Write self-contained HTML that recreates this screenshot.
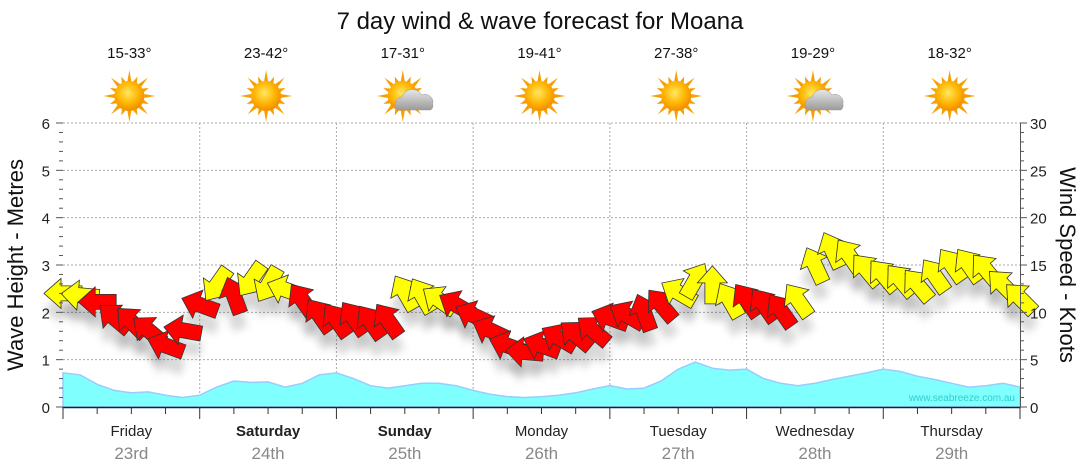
<!DOCTYPE html>
<html><head><meta charset="utf-8">
<style>
html,body{margin:0;padding:0;background:#fff;}
svg{display:block;font-family:"Liberation Sans",sans-serif;}
</style></head><body>
<svg id="chart" width="1080" height="475" viewBox="0 0 1080 475" xmlns="http://www.w3.org/2000/svg">
<defs>
<filter id="sh" x="-50%" y="-50%" width="200%" height="200%"><feGaussianBlur stdDeviation="4"/></filter>
<radialGradient id="sun" cx="45%" cy="40%" r="60%"><stop offset="0" stop-color="#ffe860"/><stop offset="0.6" stop-color="#ffb400"/><stop offset="1" stop-color="#f08c00"/></radialGradient>
<linearGradient id="cloud" x1="0" y1="0" x2="0" y2="1"><stop offset="0" stop-color="#e8e8e8"/><stop offset="1" stop-color="#9a9a9a"/></linearGradient>
</defs>
<text x="540" y="29" text-anchor="middle" font-size="24" fill="#111">7 day wind &amp; wave forecast for Moana</text>
<g id="grid"></g>
<g id="waves"></g>
<text x="1015" y="401" text-anchor="end" font-size="10" fill="#3cc">www.seabreeze.com.au</text>
<g id="shadows"></g>
<g id="arrows"></g>
<g id="axes"></g>
<g id="days"></g>
<text transform="translate(23,265) rotate(-90)" text-anchor="middle" font-size="22" fill="#111">Wave Height - Metres</text>
<text transform="translate(1060,265) rotate(90)" text-anchor="middle" font-size="22" fill="#111">Wind Speed - Knots</text>
</svg>
<script>
const days=["Friday","Saturday","Sunday","Monday","Tuesday","Wednesday","Thursday"];
const dates=["23rd","24th","25th","26th","27th","28th","29th"];
const boldDays=[false,true,true,false,false,false,false];
const temps=["15-33°","23-42°","17-31°","19-41°","27-38°","19-29°","18-32°"];
const cloudy=[false,false,true,false,false,true,false];
const leftTicks=[0,1,2,3,4,5,6];
const rightTicks=[0,5,10,15,20,25,30];
const waveHeights=[0.72,0.68,0.48,0.35,0.3,0.32,0.25,0.2,0.25,0.42,0.55,0.52,0.53,0.42,0.5,0.68,0.72,0.6,0.45,0.4,0.45,0.5,0.5,0.45,0.35,0.27,0.22,0.2,0.22,0.25,0.3,0.38,0.45,0.38,0.4,0.55,0.8,0.95,0.82,0.78,0.8,0.6,0.5,0.45,0.5,0.58,0.65,0.72,0.8,0.75,0.65,0.58,0.5,0.42,0.45,0.5,0.42];
const windSpeeds=[12.0,11.8,11.1,9.4,9.0,8.1,6.5,8.1,10.8,12.9,11.8,13.4,12.9,12.4,11.3,9.7,9.2,9.4,9.0,9.2,12.1,11.8,11.3,10.8,9.7,8.1,6.5,5.8,6.5,7.3,7.6,8.1,9.4,9.7,10.0,10.8,12.1,13.4,12.9,11.3,11.3,10.8,10.2,11.3,15.0,16.6,16.0,14.5,13.9,13.4,12.9,13.9,15.0,15.0,14.5,12.9,11.5];
const windDirs=[180,185,180,220,225,220,200,190,200,125,250,125,120,200,235,235,235,235,235,235,240,240,215,210,205,205,200,185,200,210,220,220,200,210,250,230,210,300,270,240,235,235,235,235,245,245,235,230,230,230,230,235,235,235,230,225,225];
const windColors="yyrrrrrrryryyyrrrrrryyyrrrrrrrrrrrrryyyyrrryyyyyyyyyyyyyy".split("");

const NS="http://www.w3.org/2000/svg";
const X0=63,X1=1020,Y0=407,Y1=123,DAYW=(X1-X0)/7;
const xIdx=i=>X0+i*(X1-X0)/(waveHeights.length-1);
const yM=m=>Y0-(Y0-Y1)*m/6;
const yK=k=>Y0-(Y0-Y1)*k/30;
function mk(tag,parent,attrs){const e=document.createElementNS(NS,tag);for(const k in attrs)e.setAttribute(k,attrs[k]);parent.appendChild(e);return e;}
const grid=document.getElementById('grid'),axes=document.getElementById('axes');
leftTicks.forEach(m=>{if(m>0){const l=mk('line',grid,{x1:X0,x2:X1,y1:yM(m),y2:yM(m),stroke:'#aaa','stroke-dasharray':'2,2'});

}});
for(let d=1;d<7;d++){const l=mk('line',grid,{x1:X0+d*DAYW,x2:X0+d*DAYW,y1:Y1,y2:Y0,stroke:'#aaa','stroke-dasharray':'2,2'});

}
const wg=document.getElementById('waves');
let p=`M${X0},${Y0}`;waveHeights.forEach((v,i)=>p+=` L${xIdx(i).toFixed(1)},${yM(v).toFixed(1)}`);p+=` L${X1},${Y0} Z`;
const wa=mk('path',wg,{d:p,fill:'#80ffff',stroke:'#99ccff','stroke-width':1.5});


const ag=document.getElementById('arrows'),sg=document.getElementById('shadows');
const arrowPath="M19,0 L2,-15 L2,-7.5 L-19,-7.5 L-19,7.5 L2,7.5 L2,15 Z";
windSpeeds.forEach((k,i)=>{
 const t=`translate(${xIdx(i).toFixed(1)},${yK(k).toFixed(1)}) rotate(${windDirs[i]})`;
 const s=mk('path',sg,{d:arrowPath,transform:`translate(${xIdx(i).toFixed(1)},${(yK(k)+16).toFixed(1)}) rotate(${windDirs[i]})`,fill:'#000','fill-opacity':0.15,filter:'url(#sh)'});
 
 
 const a=mk('path',ag,{d:arrowPath,transform:t,fill:windColors[i]==='y'?'#ffff00':'#ff0000',stroke:'#333','stroke-width':0.8});
 
 
});
const ax=mk('line',axes,{x1:X0,x2:X1,y1:Y0+0.5,y2:Y0+0.5,stroke:'#123',"stroke-width":1.5});


const ry=mk('line',axes,{x1:X1+0.5,x2:X1+0.5,y1:Y1,y2:Y0,stroke:'#555'});


for(let q=0;q<=30;q++){const y=Y0-(Y0-Y1)*q/30;
 const maj=q%5===0;
 const t=mk('line',axes,{x1:X0-(maj?7:4),x2:X0,y1:y,y2:y,stroke:'#555'});
 
 
 const t2=mk('line',axes,{x1:X1,x2:X1+(maj?7:4),y1:y,y2:y,stroke:'#555'});
 
 }
leftTicks.forEach(m=>{const e=mk('text',axes,{x:50,y:yM(m)+6,'text-anchor':'end','font-size':15,fill:'#222'});e.textContent=m;
 
 });
rightTicks.forEach(k=>{const e=mk('text',axes,{x:1030,y:yK(k)+6,'font-size':15,fill:'#222'});e.textContent=k;
 
 });
for(let i=0;i<=28;i++){const x=X0+i*DAYW/4;const maj=i%4===0;
 const t=mk('line',axes,{x1:x,x2:x,y1:Y0,y2:Y0+(maj?12:7),stroke:'#333'});
 
 }
const dg=document.getElementById('days');
function sunIcon(g,cx,cy){
 for(let r=0;r<16;r++){const a=r*Math.PI/8,l=r%2?21:26;
  const ray=mk('polygon',g,{points:`${cx+Math.cos(a-0.13)*15},${cy+Math.sin(a-0.13)*15} ${cx+Math.cos(a)*l},${cy+Math.sin(a)*l} ${cx+Math.cos(a+0.13)*15},${cy+Math.sin(a+0.13)*15}`,fill:'#f5a000'});
  
  }
 const c=mk('circle',g,{cx,cy,r:15,fill:'url(#sun)'});
 
 }
days.forEach((d,i)=>{
 const cx=X0+(i+0.5)*DAYW;
 const g=mk('g',dg,{});
 
 
 const tt=mk('text',g,{x:cx-2,y:58,'text-anchor':'middle','font-size':15,fill:'#111'});tt.textContent=temps[i];
 
 
 sunIcon(g,cx-2,96);
 if(cloudy[i]){const cl=mk('path',g,{d:`M${cx-8},110 a8,8 0 0,1 5,-13 a11,11 0 0,1 20,-2 a8,8 0 0,1 11,9 a6,6 0 0,1 -2,6 Z`,fill:'url(#cloud)',stroke:'#999','stroke-width':0.5});
  
  }
 const dl=mk('text',g,{x:cx,y:436,'text-anchor':'middle','font-size':15,fill:'#222','font-weight':boldDays[i]?'bold':'normal'});dl.textContent=d;
 
 
 const dt=mk('text',g,{x:cx,y:459,'text-anchor':'middle','font-size':17,fill:'#888'});dt.textContent=dates[i];
 
 
});
</script>
</body></html>
